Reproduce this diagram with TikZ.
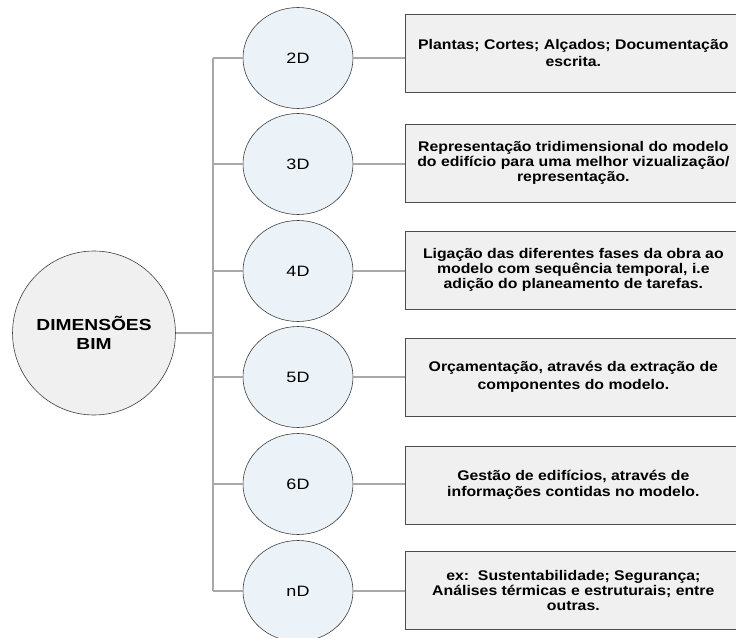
\documentclass[tikz,border=0pt]{standalone}
\usepackage{fontspec}
\setmainfont{Liberation Sans}[FakeStretch=1.2]
\newfontfamily\boxfont{Liberation Sans}[FakeStretch=1.13]
\usetikzlibrary{shadows,shapes.geometric}
\definecolor{linegray}{HTML}{A8A8A8}
\definecolor{ellfill}{HTML}{EBF3F8}
\definecolor{boxfill}{HTML}{F0F0F0}
\definecolor{mainfill}{HTML}{F0F0F0}
\begin{document}
\begin{tikzpicture}[x=1pt,y=-1pt,
  conn/.style={draw=linegray,line width=1.2pt},
  dimell/.style={ellipse,draw=black!75,line width=0.6pt,fill=ellfill,minimum width=110pt,minimum height=101pt,inner sep=0pt,font=\fontsize{15}{17}\selectfont},
  mainell/.style={ellipse,draw=black!75,line width=0.6pt,fill=mainfill,minimum width=162pt,minimum height=164pt,inner sep=0pt,font=\bfseries\fontsize{16}{19}\selectfont,align=center},
  descbox/.style={rectangle,draw=black!70,line width=0.7pt,fill=boxfill,minimum width=336pt,minimum height=78pt,align=center,anchor=west,inner sep=0pt,font=\boxfont\bfseries\fontsize{14}{15}\selectfont,drop shadow={shadow xshift=1pt,shadow yshift=-1pt,fill=black!55,opacity=0.8}},
  twoline/.style={font=\boxfont\bfseries\fontsize{14}{17.5}\selectfont}
]
\useasboundingbox (0,0) rectangle (736,637);
% main
\node[mainell] (main) at (94,333) {DIMENSÕES\\BIM};
% ellipses
\node[dimell] (e2) at (298,58) {2D};
\node[dimell] (e3) at (298,164) {3D};
\node[dimell] (e4) at (298,271) {4D};
\node[dimell] (e5) at (298,377) {5D};
\node[dimell] (e6) at (298,484) {6D};
\node[dimell] (en) at (298,591) {nD};
% boxes
\node[descbox,twoline] (b2) at (405,53) {Plantas; Cortes; Alçados; Documentação\\ escrita.};
\node[descbox] (b3) at (405,163) {Representação tridimensional do modelo\\ do edifício para uma melhor vizualização/\\ representação.};
\node[descbox] (b4) at (405,270) {Ligação das diferentes fases da obra ao\\ modelo com sequência temporal, i.e\\ adição do planeamento de tarefas.};
\node[descbox,twoline] (b5) at (405,377) {Orçamentação, através da extração de\\ componentes do modelo.};
\node[descbox,font=\boxfont\bfseries\fontsize{14}{16}\selectfont] (b6) at (405,485) {Gestão de edifícios, através de\\ informações contidas no modelo.};
\node[descbox] (bn) at (405,590) {ex:\ \ Sustentabilidade; Segurança;\\ Análises térmicas e estruturais; entre\\ outras.};
% trunk coordinates
\coordinate (tm) at (213,333);
\coordinate (t2) at (213,58);
\coordinate (t3) at (213,164);
\coordinate (t4) at (213,271);
\coordinate (t5) at (213,377);
\coordinate (t6) at (213,484);
\coordinate (tn) at (213,591);
\draw[conn] (t2) -- (tn);
\draw[conn] (main.east) -- (tm);
\foreach \k in {2,3,4,5,6,n}{
  \draw[conn] (t\k) -- (e\k.west);
  \draw[conn] (e\k.east) -- (e\k.east -| b\k.west);
}
\end{tikzpicture}
\end{document}
